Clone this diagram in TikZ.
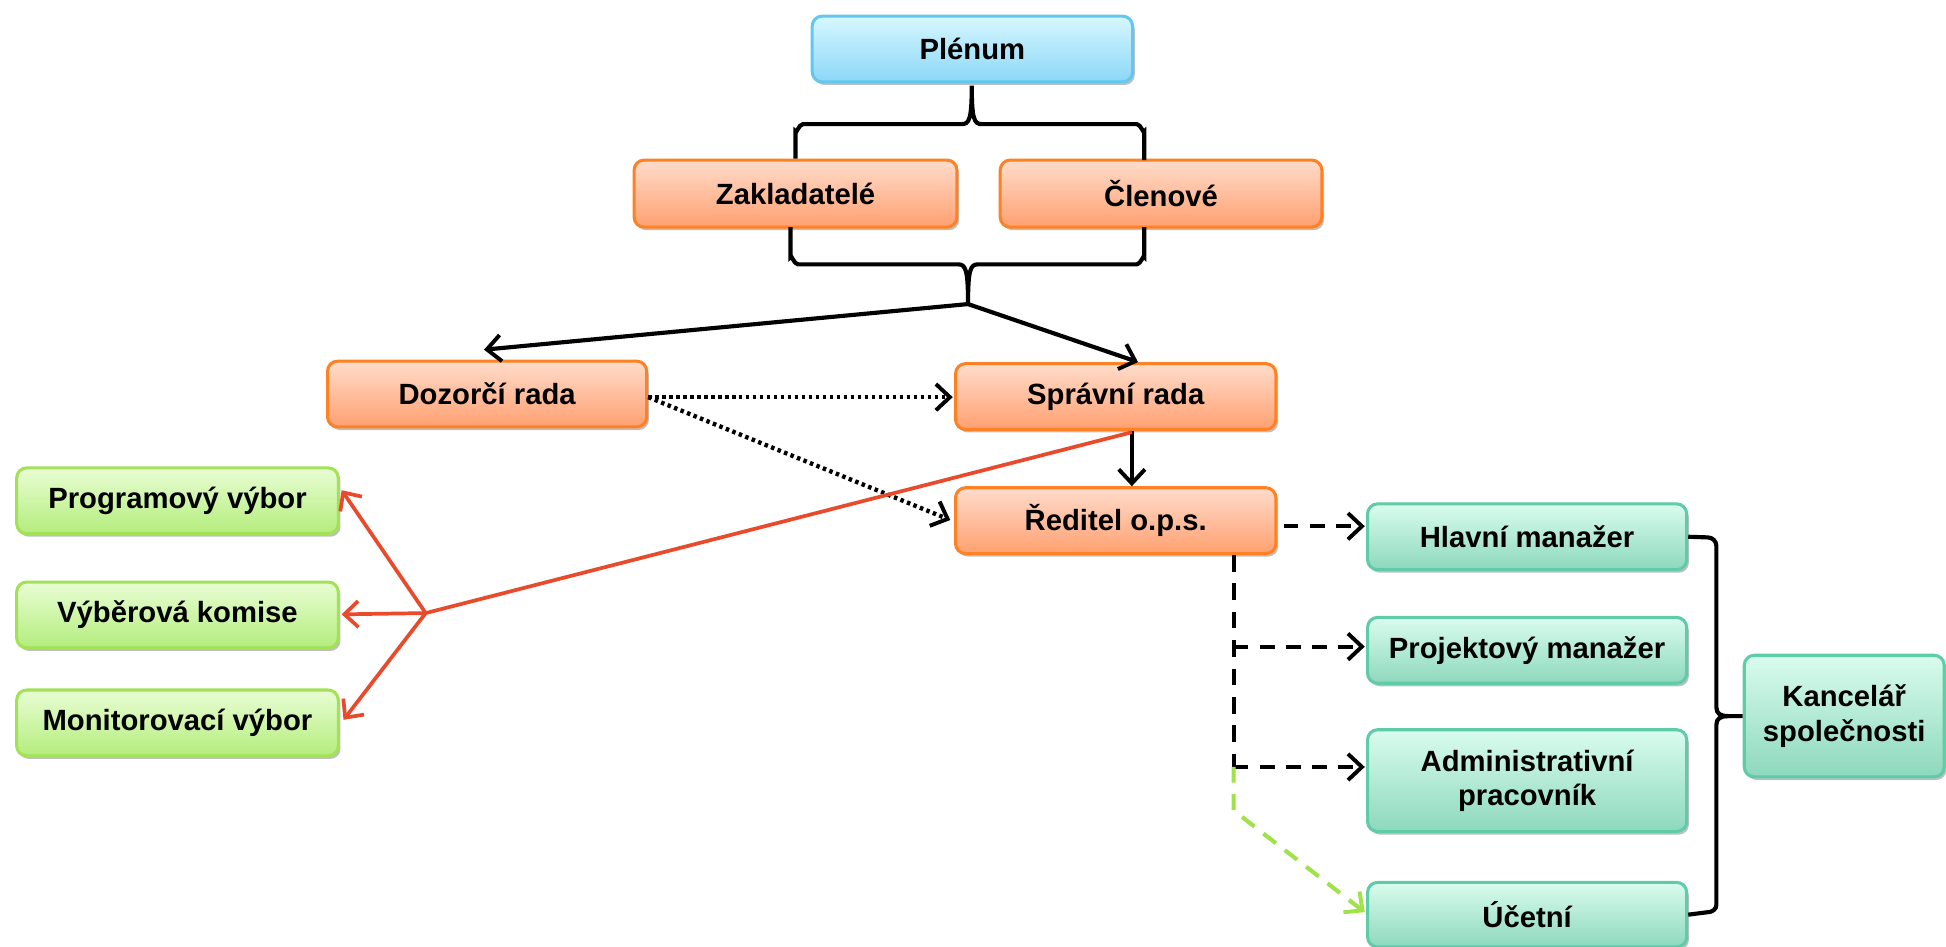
\documentclass[tikz,border=0pt]{standalone}
\usepackage{fontspec}
\setmainfont{Liberation Sans}
\usetikzlibrary{arrows.meta,shadows,calc}
\definecolor{blueT}{HTML}{D6F7FF}
\definecolor{blueB}{HTML}{8CD7F7}
\definecolor{blueD}{HTML}{62C8EF}
\definecolor{orT}{HTML}{FFDCCB}
\definecolor{orB}{HTML}{FFA070}
\definecolor{orD}{HTML}{FF8126}
\definecolor{grT}{HTML}{E9FDD4}
\definecolor{grB}{HTML}{B3ED7C}
\definecolor{grD}{HTML}{A3E257}
\definecolor{tlT}{HTML}{D9FCEE}
\definecolor{tlB}{HTML}{8DD8BD}
\definecolor{tlD}{HTML}{5ECBA9}
\definecolor{redL}{HTML}{EA4A2C}
\definecolor{grL}{HTML}{A0E24A}
\begin{document}
\begin{tikzpicture}[x=0.01cm,y=-0.01cm,
  font=\fontsize{6.7}{7.9}\selectfont\bfseries,
  box/.style={rounded corners=2.3pt, line width=0.7pt, align=center, inner sep=0pt,
    drop shadow={shadow xshift=0.5pt, shadow yshift=-0.7pt, opacity=0.25, fill=black}},
  bbox/.style={box, draw=blueD, top color=blueT, bottom color=blueB},
  obox/.style={box, draw=orD, top color=orT, bottom color=orB},
  gbox/.style={box, draw=grD, top color=grT, bottom color=grB},
  tbox/.style={box, draw=tlD, top color=tlT, bottom color=tlB},
  tip/.style={-{Straight Barb[length=3.2pt,width=6pt,line width=0.9pt]}},
  conn/.style={line width=0.95pt, black},
  arr/.style={conn, tip},
  dotarr/.style={line width=1pt, black, dash pattern=on 0.8pt off 0.8pt, tip},
  dasharr/.style={line width=0.95pt, black, dash pattern=on 3.4pt off 2.6pt, tip},
  dashl/.style={line width=0.95pt, black, dash pattern=on 3.8pt off 2.7pt},
  redl/.style={line width=0.85pt, redL},
  redarr/.style={redl, -{Straight Barb[length=3.2pt,width=6pt,line width=0.85pt]}},
  grarr/.style={line width=0.95pt, grL, dash pattern=on 3.6pt off 2.6pt, -{Straight Barb[length=3.2pt,width=6pt,line width=0.9pt]}},
  brace/.style={line width=0.95pt, black}
]
\useasboundingbox (0,0) rectangle (1568,763);

% nodes
\node[bbox, minimum width=2.58cm, minimum height=0.53cm] (plenum) at (783.5,39.5) {Plénum};
\node[obox, minimum width=2.60cm, minimum height=0.54cm] (zak) at (641,156) {Zakladatelé};
\node[obox, minimum width=2.59cm, minimum height=0.54cm] (cle) at (935.5,156) {Členové};
\node[obox, minimum width=2.57cm, minimum height=0.53cm] (doz) at (392.5,317.5) {Dozorčí rada};
\node[obox, minimum width=2.58cm, minimum height=0.53cm] (spr) at (899,319.5) {Správní rada};
\node[obox, minimum width=2.58cm, minimum height=0.53cm] (red) at (899,419.5) {Ředitel o.p.s.};
\node[gbox, minimum width=2.59cm, minimum height=0.53cm] (prog) at (143,403.5) {Programový výbor};
\node[gbox, minimum width=2.59cm, minimum height=0.53cm] (vyb) at (143,495.5) {Výběrová komise};
\node[gbox, minimum width=2.59cm, minimum height=0.53cm] (mon) at (143,582.5) {Monitorovací výbor};
\node[tbox, minimum width=2.57cm, minimum height=0.53cm] (hl) at (1230.5,432.5) {Hlavní manažer};
\node[tbox, minimum width=2.57cm, minimum height=0.53cm] (proj) at (1230.5,524) {Projektový manažer};
\node[tbox, minimum width=2.57cm, minimum height=0.82cm] (adm) at (1230.5,629) {Administrativní\\pracovník};
\node[tbox, minimum width=2.57cm, minimum height=0.52cm] (uc) at (1230.5,737) {Účetní};
\node[tbox, minimum width=1.61cm, minimum height=0.98cm] (kan) at (1486,577) {Kancelář\\společnosti};

% upper brace
\draw[brace] (zak.north) -- (641,106) to[out=-90,in=180] (647,100) -- (775,100)
  .. controls (781,100) and (783,96) .. (783,69)
  .. controls (783,96) and (785,100) .. (791,100) -- (916,100)
  to[out=0,in=-90] (922,106) -- (922,129);
% lower brace
\draw[brace] (637,183) -- (637,207) to[out=90,in=180] (643,213) -- (772,213)
  .. controls (778,213) and (780,217) .. (780,245)
  .. controls (780,217) and (782,213) .. (788,213) -- (916,213)
  to[out=0,in=90] (922,207) -- (922,183);
\coordinate (lb) at (780,245);
\draw[arr] (lb) -- ($(doz.north)+(-2.5,-8)$);
\draw[arr] (lb) -- ($(spr.north)+(18,0)$);

% Spravni -> Reditel
\draw[arr] ($(spr.south)+(13,0)$) -- ($(red.north)+(13,0)$);

% dotted from Dozorci rada
\coordinate (de) at ($(doz.east)+(0,2.5)$);
\draw[dotarr] (de) -- ($(spr.west)+(-1,0.5)$);
\draw[dotarr] (de) -- ($(red.west)+(-3,-0.5)$);

% red lines
\coordinate (rj) at (343,494);
\draw[redl] ($(spr.south)+(13,1)$) -- (rj);
\draw[redarr] (rj) -- ($(prog.east)+(1.5,-8.5)$);
\draw[redarr] (rj) -- ($(vyb.east)+(1.5,-0.5)$);
\draw[redarr] (rj) -- ($(mon.east)+(3,-2.5)$);

% dashed from Reditel
\draw[dasharr] ($(red.east)+(5,4.5)$) -- ($(hl.west)+(-1,-8.5)$);
\coordinate (v0) at ($(red.south)+(95,0)$);
\coordinate (v1) at (994,521);
\coordinate (v2) at (994,618);
\coordinate (v3) at (994,653);
\draw[dashl] (v0) -- (v2);
\draw[dasharr] (v1) -- ($(proj.west)+(-1,-3)$);
\draw[dasharr] (v2) -- ($(adm.west)+(-1,-11)$);
\draw[grarr] (v2) -- (v3) -- ($(uc.west)+(-1,-2)$);

% right brace
\draw[brace] (hl.east) -- (1376,433) to[out=0,in=90] (1383,440) -- (1383,570)
  .. controls (1383,575) and (1386,577) .. (1393,577) -- (kan.west);
\draw[brace] (1393,577) .. controls (1386,577) and (1383,579) .. (1383,584)
  -- (1383,729) to[out=-90,in=0] (1376,735) -- (uc.east);
\end{tikzpicture}
\end{document}
